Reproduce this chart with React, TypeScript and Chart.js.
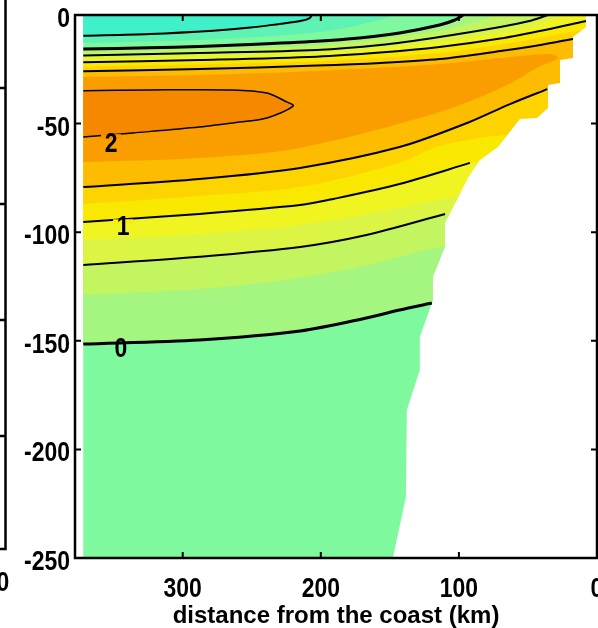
import React, { useEffect, useRef } from 'react';
import { Chart, registerables } from 'chart.js';

Chart.register(...registerables);

type P = [number, number];

const SANS = "'Liberation Sans', Arial, Helvetica, sans-serif";
const NARROW_SCALE = 0.82; // tick labels are a condensed bold face

// axes
const X_MAX = 378;
const DATA_EDGE = 372; // km, western edge of the section
const DEPTH_MIN = -250;
const xTickValues = [300, 200, 100, 0];
const yTickValues = [0, -50, -100, -150, -200, -250];
const xTitle = 'distance from the coast (km)';

// coastline / bottom (km, depth), top to bottom
const coastline: P[] = [
  [8.0, 0], [8.0, -5.5], [17.4, -10.1], [17.4, -19.8], [26.8, -20.7], [26.8, -31.3],
  [35.5, -32.2], [35.5, -42.8], [43.5, -47.4], [55.8, -47.9], [71.7, -60.8], [84.8, -66.8],
  [93.5, -75.1], [101.4, -85.2], [110.1, -95.8], [110.1, -106.8], [118.8, -120.6],
  [118.8, -131.2], [128.3, -148.3], [128.3, -163.4], [137.7, -181.9], [138.4, -221.9], [147.8, -250],
];

// contour branches (km, depth), west to east
const cM050: P[] = [[372, -9.5], [324, -8.7], [278, -7.2], [251, -5.8], [230, -4.1], [215, -2.8], [208, -1.4], [206.5, 0]];
const cM025: P[] = [[372, -12.9], [288, -11.5], [215, -8.7], [179, -5.5], [150, 0]];
const c000Up: P[] = [[372, -15.7], [324, -15.1], [288, -14.5], [251, -13.6], [203, -12.1], [172, -10.6], [143, -8.3], [114, -4.6], [103, -2.3], [97, 0]];
const c000Lo: P[] = [[372, -151.5], [288, -149.6], [215, -145.5], [167, -139.5], [143, -135.8], [119.6, -132.6]];
const c025Up: P[] = [[372, -17.2], [203, -14.1], [114, -7.4], [85, -2.8], [67, 0]];
const c025Lo: P[] = [[372, -128.9], [288, -126.2], [215, -121.1], [157, -113.7], [109.5, -106.5]];
const c050Up: P[] = [[372, -18.7], [288, -17.5], [203, -16.1], [157, -13.8], [114, -10.1], [70, -5.5], [49, -2.8], [35.5, 0]];
const c050Lo: P[] = [[372, -115.1], [288, -111.3], [215, -106.8], [167, -101.3], [110, -91.6]];
const c075Up: P[] = [[372, -20.3], [203, -17.6], [114, -12.4], [56, -6.9], [21, 0]];
const c075Lo: P[] = [[372, -103.6], [288, -100.8], [215, -96.7], [143, -88.9], [100.7, -83.8]];
const c100Up: P[] = [[372, -21.8], [288, -20.7], [203, -19.2], [157, -17.3], [114, -14.7], [70, -10.8], [34, -6.4], [8, -2.8]];
const c100Lo: P[] = [[372, -95.3], [288, -91.6], [215, -87.5], [191, -84.7], [143, -77.8], [92, -68.1]];
const c125Up: P[] = [[372, -23.8], [203, -21.3], [114, -17.5], [56, -12.2], [11, -6.9]];
const c125Lo: P[] = [[372, -87.0], [288, -83.3], [215, -79.2], [143, -68.1], [114, -60.3], [67, -55.2]];
const c150Up: P[] = [[372, -25.9], [288, -24.9], [203, -23.3], [157, -22.1], [114, -20.3], [70, -16.6], [41, -13.8], [17.4, -11.0]];
const c150Lo: P[] = [[372, -79.2], [288, -75.5], [215, -70.4], [143, -60.8], [94, -49.7], [63, -41.0], [36, -34.1]];
const c175: P[] = [[372, -28.5], [288, -27.6], [203, -25.8], [114, -22.6], [56, -18.9], [34, -18.0], [28, -19.8], [41, -23.5], [65, -32.2], [114, -44.7], [215, -61.2], [288, -65.8], [372, -67.7]];
const c200: P[] = [[372, -34.9], [324, -34.5], [264, -34.5], [239, -35.9], [226, -39.6], [220, -41.9], [239, -47.4], [259, -49.3], [288, -51.6], [336, -54.3], [372, -56.2]];

// filled-band colours
const colDeep = '#7EF99E';
const colM025 = '#5EF2B4';
const colM050 = '#40F0C8';
const col000 = '#A4F680';
const col025 = '#C2F560';
const col050 = '#DCF545';
const col075 = '#F0F420';
const col100 = '#F9E900';
const col125 = '#FDD400';
const col150 = '#FDBC00';
const col175 = '#FA9E00';
const col200 = '#F68800';
const colLand = '#FFFFFF';

// inline contour labels (baseline position) and the contour they interrupt
const labelTexts = ['2', '1', '0'];
const labelKm = [351.9, 343.2, 344.7];
const labelDepth = [-62.9, -101.3, -157.4];
const labelLineDepth = [-56.0, -95.2, null];
const labelGapColor = ['#F89300', '#F5EF10', null];

const TENSION = 0.3;
const toXY = (pts: P[]) => pts.map(([x, y]) => ({ x, y }));

const poly = (pts: P[], color: string) => ({
  data: toXY(pts),
  showLine: true,
  fill: 'shape',
  backgroundColor: color,
  borderColor: color,
  borderWidth: 0,
  pointRadius: 0,
  pointHoverRadius: 0,
  tension: TENSION,
});

const polyFlat = (pts: P[], color: string) => ({ ...poly(pts, color), tension: 0 });

const stroke = (pts: P[], w: number) => ({
  data: toXY(pts),
  showLine: true,
  fill: false,
  borderColor: '#000000',
  backgroundColor: '#000000',
  borderWidth: w,
  borderJoinStyle: 'round',
  pointRadius: 0,
  pointHoverRadius: 0,
  tension: TENSION,
});

const lowRegion = (c: P[]): P[] => [...c, [DATA_EDGE, 0]];
const highRegion = (up: P[], lo: P[]): P[] => {
  const u = up[up.length - 1];
  const l = lo[lo.length - 1];
  return [...up, [0, u[1]], [0, l[1]], ...lo.slice().reverse()];
};

const narrowText = (ctx: any, text: string, x: number, y: number, align: string, size: number) => {
  ctx.save();
  ctx.translate(x, y);
  ctx.scale(NARROW_SCALE, 1);
  ctx.font = `bold ${size}px ${SANS}`;
  ctx.textAlign = align;
  ctx.textBaseline = 'alphabetic';
  ctx.fillStyle = '#000';
  ctx.fillText(text, 0, 0);
  ctx.restore();
};

const framePlugin = {
  id: 'frameAndLabels',
  afterDatasetsDraw(chart: any) {
    const { ctx, chartArea: a, scales } = chart;
    const xs = scales.x;
    const ys = scales.y;
    ctx.save();
    // inline contour labels
    labelTexts.forEach((t, i) => {
      const px = xs.getPixelForValue(labelKm[i]);
      const ld = labelLineDepth[i];
      const gc = labelGapColor[i];
      if (ld !== null && gc) {
        const ly = ys.getPixelForValue(ld);
        ctx.fillStyle = gc;
        ctx.fillRect(px - 10, ly - 2.5, 20, 5);
      }
      narrowText(ctx, t, px, ys.getPixelForValue(labelDepth[i]), 'center', 28);
    });
    // frame
    ctx.strokeStyle = '#000';
    ctx.lineWidth = 2.5;
    ctx.strokeRect(a.left, a.top, a.right - a.left, a.bottom - a.top);
    ctx.lineWidth = 2;
    ctx.beginPath();
    xTickValues.forEach((v) => {
      const px = xs.getPixelForValue(v);
      if (px <= a.left + 2 || px >= a.right - 2) return;
      ctx.moveTo(px, a.top);
      ctx.lineTo(px, a.top + 6);
      ctx.moveTo(px, a.bottom);
      ctx.lineTo(px, a.bottom - 6);
    });
    yTickValues.forEach((v) => {
      const py = ys.getPixelForValue(v);
      if (py <= a.top + 2 || py >= a.bottom - 2) return;
      ctx.moveTo(a.left, py);
      ctx.lineTo(a.left + 6, py);
      ctx.moveTo(a.right, py);
      ctx.lineTo(a.right - 6, py);
    });
    ctx.stroke();
    // tick labels
    xTickValues.forEach((v) => {
      narrowText(ctx, String(v), xs.getPixelForValue(v), a.bottom + 39, 'center', 28);
    });
    yTickValues.forEach((v) => {
      narrowText(ctx, String(v), a.left - 5, ys.getPixelForValue(v) + 12, 'right', 28);
    });
    ctx.restore();
  },
  afterDraw(chart: any) {
    // right edge of the neighbouring panel
    const { ctx } = chart;
    ctx.save();
    ctx.strokeStyle = '#000';
    ctx.lineWidth = 2.5;
    ctx.beginPath();
    ctx.moveTo(5.5, 0);
    ctx.lineTo(5.5, 549);
    ctx.lineTo(0, 549);
    [88, 204, 320, 436].forEach((y) => {
      ctx.moveTo(5.5, y);
      ctx.lineTo(0, y);
    });
    ctx.stroke();
    ctx.restore();
    narrowText(ctx, '0', 3, 591, 'center', 28);
  },
};

export default function App() {
  const ref = useRef<HTMLCanvasElement>(null);
  useEffect(() => {
    if (!ref.current) return;
    const layers: any[] = [
      polyFlat([[DATA_EDGE, 0], [0, 0], [0, DEPTH_MIN], [DATA_EDGE, DEPTH_MIN]], colDeep),
      poly(lowRegion(cM025), colM025),
      poly(lowRegion(cM050), colM050),
      poly(highRegion(c000Up, c000Lo), col000),
      poly(highRegion(c025Up, c025Lo), col025),
      poly(highRegion(c050Up, c050Lo), col050),
      poly(highRegion(c075Up, c075Lo), col075),
      poly(highRegion(c100Up, c100Lo), col100),
      poly(highRegion(c125Up, c125Lo), col125),
      poly(highRegion(c150Up, c150Lo), col150),
      poly(c175, col175),
      poly(c200, col200),
      polyFlat([...coastline, [0, DEPTH_MIN], [0, 0]], colLand),
      stroke(cM050, 2),
      stroke(c000Up, 3),
      stroke(c050Up, 2),
      stroke(c100Up, 2),
      stroke(c150Up, 2),
      stroke(c200, 1.5),
      stroke(c150Lo, 2),
      stroke(c100Lo, 2),
      stroke(c050Lo, 2),
      stroke(c000Lo, 3),
    ];
    const n = layers.length;
    const datasets = layers.map((d, i) => ({ ...d, order: n - i }));

    const chart = new Chart(ref.current, {
      type: 'scatter',
      data: { datasets },
      plugins: [framePlugin],
      options: {
        responsive: false,
        animation: false,
        events: [],
        layout: { padding: { left: 0, right: 1, top: 15, bottom: 0 } },
        plugins: { legend: { display: false }, tooltip: { enabled: false } },
        scales: {
          x: {
            type: 'linear',
            reverse: true,
            min: 0,
            max: X_MAX,
            afterBuildTicks: (s: any) => { s.ticks = xTickValues.map((value) => ({ value })); },
            afterFit: (s: any) => { s.height = 70; s.paddingLeft = 0; s.paddingRight = 0; },
            grid: { display: false, drawTicks: false },
            border: { display: false },
            ticks: { display: false },
            title: {
              display: true,
              text: xTitle,
              color: '#000',
              font: { family: SANS, size: 24, weight: 'bold', lineHeight: 1 },
              padding: { top: 0, bottom: 0 },
            },
          },
          y: {
            type: 'linear',
            min: DEPTH_MIN,
            max: 0,
            afterBuildTicks: (s: any) => { s.ticks = yTickValues.map((value) => ({ value })); },
            afterFit: (s: any) => { s.width = 75; s.paddingTop = 0; s.paddingBottom = 0; },
            grid: { display: false, drawTicks: false },
            border: { display: false },
            ticks: { display: false },
          },
        },
      },
    } as any);
    return () => chart.destroy();
  }, []);

  return (
    <div style={{ position: 'fixed', left: 0, top: 0, width: 598, height: 628, background: '#fff' }}>
      <canvas ref={ref} width={598} height={628} style={{ display: 'block', width: 598, height: 628 }} />
    </div>
  );
}
